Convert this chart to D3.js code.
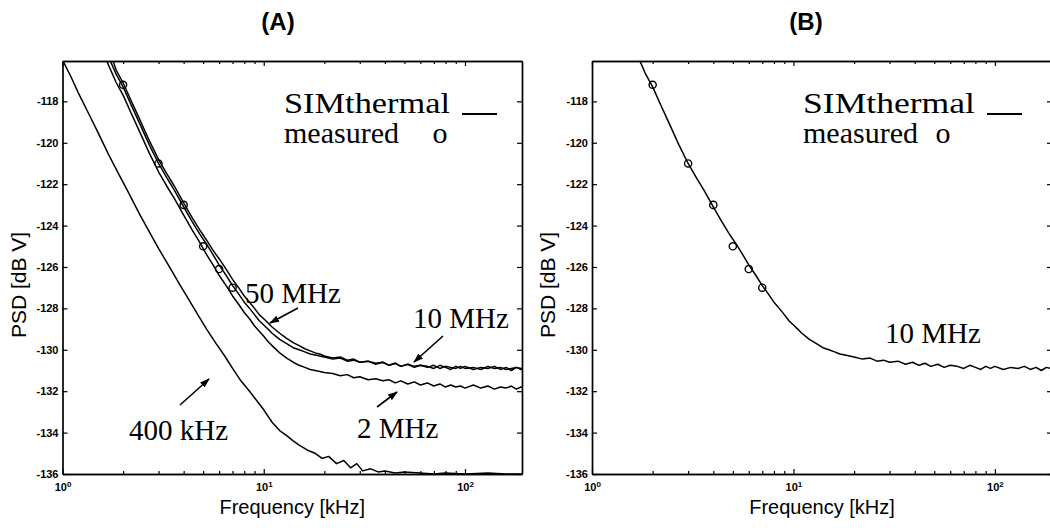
<!DOCTYPE html>
<html>
<head>
<meta charset="utf-8">
<script src="https://cdn.jsdelivr.net/npm/d3@7"></script>
<style>
  body { margin: 0; background: #fff; }
  svg { display: block; }
  .tick text { font-family: "Liberation Sans", Arial, sans-serif; font-size: 11px; font-weight: bold; fill: #000; }
  .serif { font-family: "Liberation Serif", "Times New Roman", serif; fill: #000; }
  .sans { font-family: "Liberation Sans", Arial, sans-serif; fill: #000; }
</style>
</head>
<body>
<script>

  // measured PSD points (kHz, dB V)
  var measFreq = [2, 3, 4, 5, 6, 7];
  var measPsd = [-117.2, -121.0, -123.0, -125.0, -126.1, -127.0];

  // frequency grid of the simulated curves (kHz)
  var simFreq = [1.6, 1.72, 1.85, 2, 2.2, 2.4, 2.7, 3, 3.3, 3.6, 4, 4.4, 4.8, 5.2, 5.6, 6, 6.5, 7, 7.5, 8,
    8.5, 9, 9.5, 10, 10.5, 11, 12, 13, 14, 15, 16, 17, 18, 19, 20, 22, 24, 26, 28, 30,
    33, 36, 39, 42, 45, 48, 52, 56, 60, 65, 70, 75, 80, 85, 90, 95, 100, 110, 120, 130,
    140, 150, 160, 170, 180, 190, 200];

  var psd50M = [-114.8, -115.6, -116.5, -117.1, -118.0, -118.8, -119.9, -120.8, -121.5, -122.1,
    -122.9, -123.6, -124.2, -124.7, -125.2, -125.6, -126.1, -126.6, -127.0, -127.4,
    -127.7, -128.0, -128.3, -128.5, -128.7, -128.9, -129.2, -129.45, -129.65, -129.8,
    -129.95, -130.05, -130.15, -130.2, -130.3,
    -130.4, -130.35, -130.5, -130.45, -130.6, -130.55, -130.65, -130.6, -130.75, -130.65,
    -130.8, -130.7, -130.8, -130.75, -130.85, -130.75, -130.9, -130.8, -130.85, -130.9,
    -130.8, -130.9, -130.85, -130.95, -130.8, -130.9, -130.85, -130.95, -130.9, -130.85,
    -130.95, -130.9];

  var psd10M = [-115.3, -116.0, -116.7, -117.3, -118.2, -119.0, -120.1, -121.0, -121.7, -122.3,
    -123.1, -123.8, -124.4, -124.9, -125.4, -125.9, -126.4, -126.9, -127.3, -127.7,
    -128.0, -128.3, -128.6, -128.8, -129.0, -129.2, -129.5, -129.7, -129.9, -130.0,
    -130.1, -130.2, -130.25, -130.3, -130.35,
    -130.45, -130.4, -130.55, -130.5, -130.6, -130.55, -130.7, -130.6, -130.75, -130.65,
    -130.8, -130.7, -130.85, -130.75, -130.8, -130.9, -130.75, -130.85, -130.95, -130.8,
    -130.9, -130.8, -130.95, -130.85, -130.9, -130.8, -130.95, -130.85, -131.0, -130.85,
    -130.9, -130.95];

  var psd2M = [-115.7, -116.4, -117.1, -117.7, -118.6, -119.4, -120.5, -121.4, -122.1, -122.7,
    -123.5, -124.2, -124.8, -125.4, -125.9, -126.4, -126.9, -127.4, -127.8, -128.2,
    -128.5, -128.85, -129.1, -129.35, -129.6, -129.8, -130.15, -130.4, -130.6, -130.75,
    -130.85, -130.95, -131.0, -131.05, -131.1,
    -131.15, -131.25, -131.2, -131.35, -131.3, -131.45, -131.4, -131.5, -131.45, -131.6,
    -131.5, -131.65, -131.55, -131.7, -131.6, -131.75, -131.65, -131.8, -131.7, -131.8,
    -131.75, -131.85, -131.7, -131.85, -131.75, -131.9, -131.8, -131.85, -131.75, -131.9,
    -131.8, -131.85];

  var freq400k = [1, 1.1, 1.2, 1.35, 1.5, 1.7, 1.9, 2.1, 2.4, 2.7, 3, 3.4, 3.8, 4.2, 4.7, 5.2, 5.8, 6.4, 7, 7.7,
    8.5, 9.3, 10, 11, 12, 13, 14, 15, 16.5, 18, 19.5, 21, 23, 25, 27, 29, 31, 34, 37, 40,
    45, 50, 60, 70, 80, 100, 130, 160, 200];
  var psd400k = [-116.0, -116.8, -117.6, -118.6, -119.5, -120.6, -121.5, -122.3, -123.4, -124.3,
    -125.1, -126.0, -126.8, -127.5, -128.3, -129.0, -129.7, -130.3, -130.9, -131.5,
    -132.0, -132.5, -132.9, -133.5, -133.9, -134.15, -134.4, -134.6, -134.85, -135.0,
    -135.25, -135.15, -135.5, -135.35, -135.7, -135.5, -135.85, -135.75, -135.9, -135.85,
    -135.95, -135.9, -135.95, -136, -135.95, -136, -135.95, -136, -136];

  var yTicks = [-136, -134, -132, -130, -128, -126, -124, -122, -120, -118];
  var xTicks = [1, 10, 100];
  var xMinor = [2, 3, 4, 5, 6, 7, 8, 9, 20, 30, 40, 50, 60, 70, 80, 90];

  var svg = d3.select("body").append("svg")
    .attr("width", 1050)
    .attr("height", 528);

  svg.append("defs").append("marker")
    .attr("id", "head")
    .attr("viewBox", "0 0 10 10")
    .attr("refX", 9).attr("refY", 5)
    .attr("markerUnits", "userSpaceOnUse")
    .attr("markerWidth", 10).attr("markerHeight", 10)
    .attr("orient", "auto")
    .append("path")
    .attr("d", "M0,1.5 L10,5 L0,8.5 z")
    .attr("fill", "#000");

  var drawPanel = function(p) {
    var x = d3.scaleLog().domain([1, 192]).range([p.x0, p.x1]);
    var y = d3.scaleLinear().domain([-136, -116.05]).range([p.yBot, p.yTop]);
    var g = svg.append("g");

    g.append("clipPath").attr("id", "clip" + p.id)
      .append("rect")
      .attr("x", p.x0).attr("y", p.yTop)
      .attr("width", p.x1 - p.x0).attr("height", p.yBot - p.yTop);

    // axes, ticks inside the box
    g.append("g").attr("transform", "translate(0," + p.yBot + ")")
      .call(d3.axisBottom(x).tickValues(xMinor).tickSize(-3).tickSizeOuter(0).tickFormat(""));
    var bx = g.append("g").attr("transform", "translate(0," + p.yBot + ")")
      .call(d3.axisBottom(x).tickValues(xTicks).tickSize(-5).tickSizeOuter(0).tickPadding(9).tickFormat(""));
    bx.selectAll(".tick text").each(function(d) {
      var t = d3.select(this);
      t.text("10");
      t.append("tspan").attr("dy", "-4").attr("font-size", "8px").text(Math.round(Math.log10(d)));
    });
    g.append("g").attr("transform", "translate(0," + p.yTop + ")")
      .call(d3.axisTop(x).tickValues(xMinor).tickSize(-3).tickSizeOuter(0).tickFormat(""));
    g.append("g").attr("transform", "translate(0," + p.yTop + ")")
      .call(d3.axisTop(x).tickValues(xTicks).tickSize(-5).tickSizeOuter(0).tickFormat(""));
    g.append("g").attr("transform", "translate(" + p.x0 + ",0)")
      .call(d3.axisLeft(y).tickValues(yTicks).tickSize(-5).tickSizeOuter(0).tickPadding(4)
        .tickFormat(function(d) { return String(d); }));
    g.append("g").attr("transform", "translate(" + p.x1 + ",0)")
      .call(d3.axisRight(y).tickValues(yTicks).tickSize(-5).tickSizeOuter(0).tickFormat(""));

    g.selectAll(".domain").attr("stroke", "#000").attr("stroke-width", 1.7);
    g.selectAll(".tick line").attr("stroke", "#000").attr("stroke-width", 1.2);

    var line = d3.line()
      .x(function(d) { return x(d[0]); })
      .y(function(d) { return y(d[1]); });

    var curves = g.append("g").attr("clip-path", "url(#clip" + p.id + ")");
    p.series.forEach(function(s) {
      curves.append("path")
        .datum(d3.zip(s.f, s.v))
        .attr("fill", "none")
        .attr("stroke", "#000")
        .attr("stroke-width", 1.5)
        .attr("stroke-linejoin", "round")
        .attr("d", line);
    });

    curves.selectAll("circle")
      .data(d3.zip(measFreq, measPsd))
      .enter().append("circle")
      .attr("cx", function(d) { return x(d[0]); })
      .attr("cy", function(d) { return y(d[1]); })
      .attr("r", 3.6)
      .attr("fill", "none")
      .attr("stroke", "#000")
      .attr("stroke-width", 1.4);

    // titles and axis labels
    g.append("text").attr("class", "sans")
      .attr("x", p.titleX).attr("y", 30)
      .attr("text-anchor", "middle")
      .attr("font-size", "24px").attr("font-weight", "bold")
      .text(p.title);

    g.append("text").attr("class", "sans")
      .attr("x", (p.x0 + p.x1) / 2).attr("y", 514)
      .attr("text-anchor", "middle")
      .attr("font-size", "20px")
      .text("Frequency [kHz]");

    g.append("text").attr("class", "sans")
      .attr("transform", "translate(" + (p.x0 - 37) + ",285) rotate(-90)")
      .attr("text-anchor", "middle")
      .attr("font-size", "21px")
      .text("PSD [dB V]");

    // legend
    g.append("text").attr("class", "serif")
      .attr("x", p.legX).attr("y", 113)
      .attr("font-size", "30px")
      .attr("textLength", p.legW).attr("lengthAdjust", "spacingAndGlyphs")
      .text("SIMthermal");
    g.append("line")
      .attr("x1", p.legX + p.legW + 12).attr("x2", p.legX + p.legW + 47)
      .attr("y1", 114).attr("y2", 114)
      .attr("stroke", "#000").attr("stroke-width", 2);
    g.append("text").attr("class", "serif")
      .attr("x", p.legX).attr("y", 143)
      .attr("font-size", "30px")
      .text("measured");
    g.append("text").attr("class", "serif")
      .attr("x", p.legX + p.oX).attr("y", 143)
      .attr("font-size", "30px")
      .attr("text-anchor", "middle")
      .text("o");

    p.notes.forEach(function(n) {
      g.append("text").attr("class", "serif")
        .attr("x", n.x).attr("y", n.y)
        .attr("font-size", "29px")
        .text(n.text);
      if (n.arrow) {
        g.append("line")
          .attr("x1", n.arrow[0]).attr("y1", n.arrow[1])
          .attr("x2", n.arrow[2]).attr("y2", n.arrow[3])
          .attr("stroke", "#000").attr("stroke-width", 1.6)
          .attr("marker-end", "url(#head)");
      }
    });
  };

  drawPanel({
    id: "A", x0: 62.5, x1: 522, yTop: 61, yBot: 474,
    title: "(A)", titleX: 278, legX: 284, legW: 166, oX: 156,
    series: [
      { f: freq400k, v: psd400k },
      { f: simFreq, v: psd2M },
      { f: simFreq, v: psd10M },
      { f: simFreq, v: psd50M }
    ],
    notes: [
      { text: "50 MHz", x: 245, y: 303, arrow: [298, 308, 270, 323] },
      { text: "10 MHz", x: 413, y: 328, arrow: [443, 336, 414, 362] },
      { text: "2 MHz", x: 357, y: 438, arrow: [377, 407, 397, 392] },
      { text: "400 kHz", x: 129, y: 440, arrow: [180, 405, 209, 379] }
    ]
  });

  drawPanel({
    id: "B", x0: 592, x1: 1052, yTop: 61, yBot: 474,
    title: "(B)", titleX: 806, legX: 803, legW: 172, oX: 140,
    series: [
      { f: simFreq, v: psd10M }
    ],
    notes: [
      { text: "10 MHz", x: 885, y: 343 }
    ]
  });

</script>
</body>
</html>
